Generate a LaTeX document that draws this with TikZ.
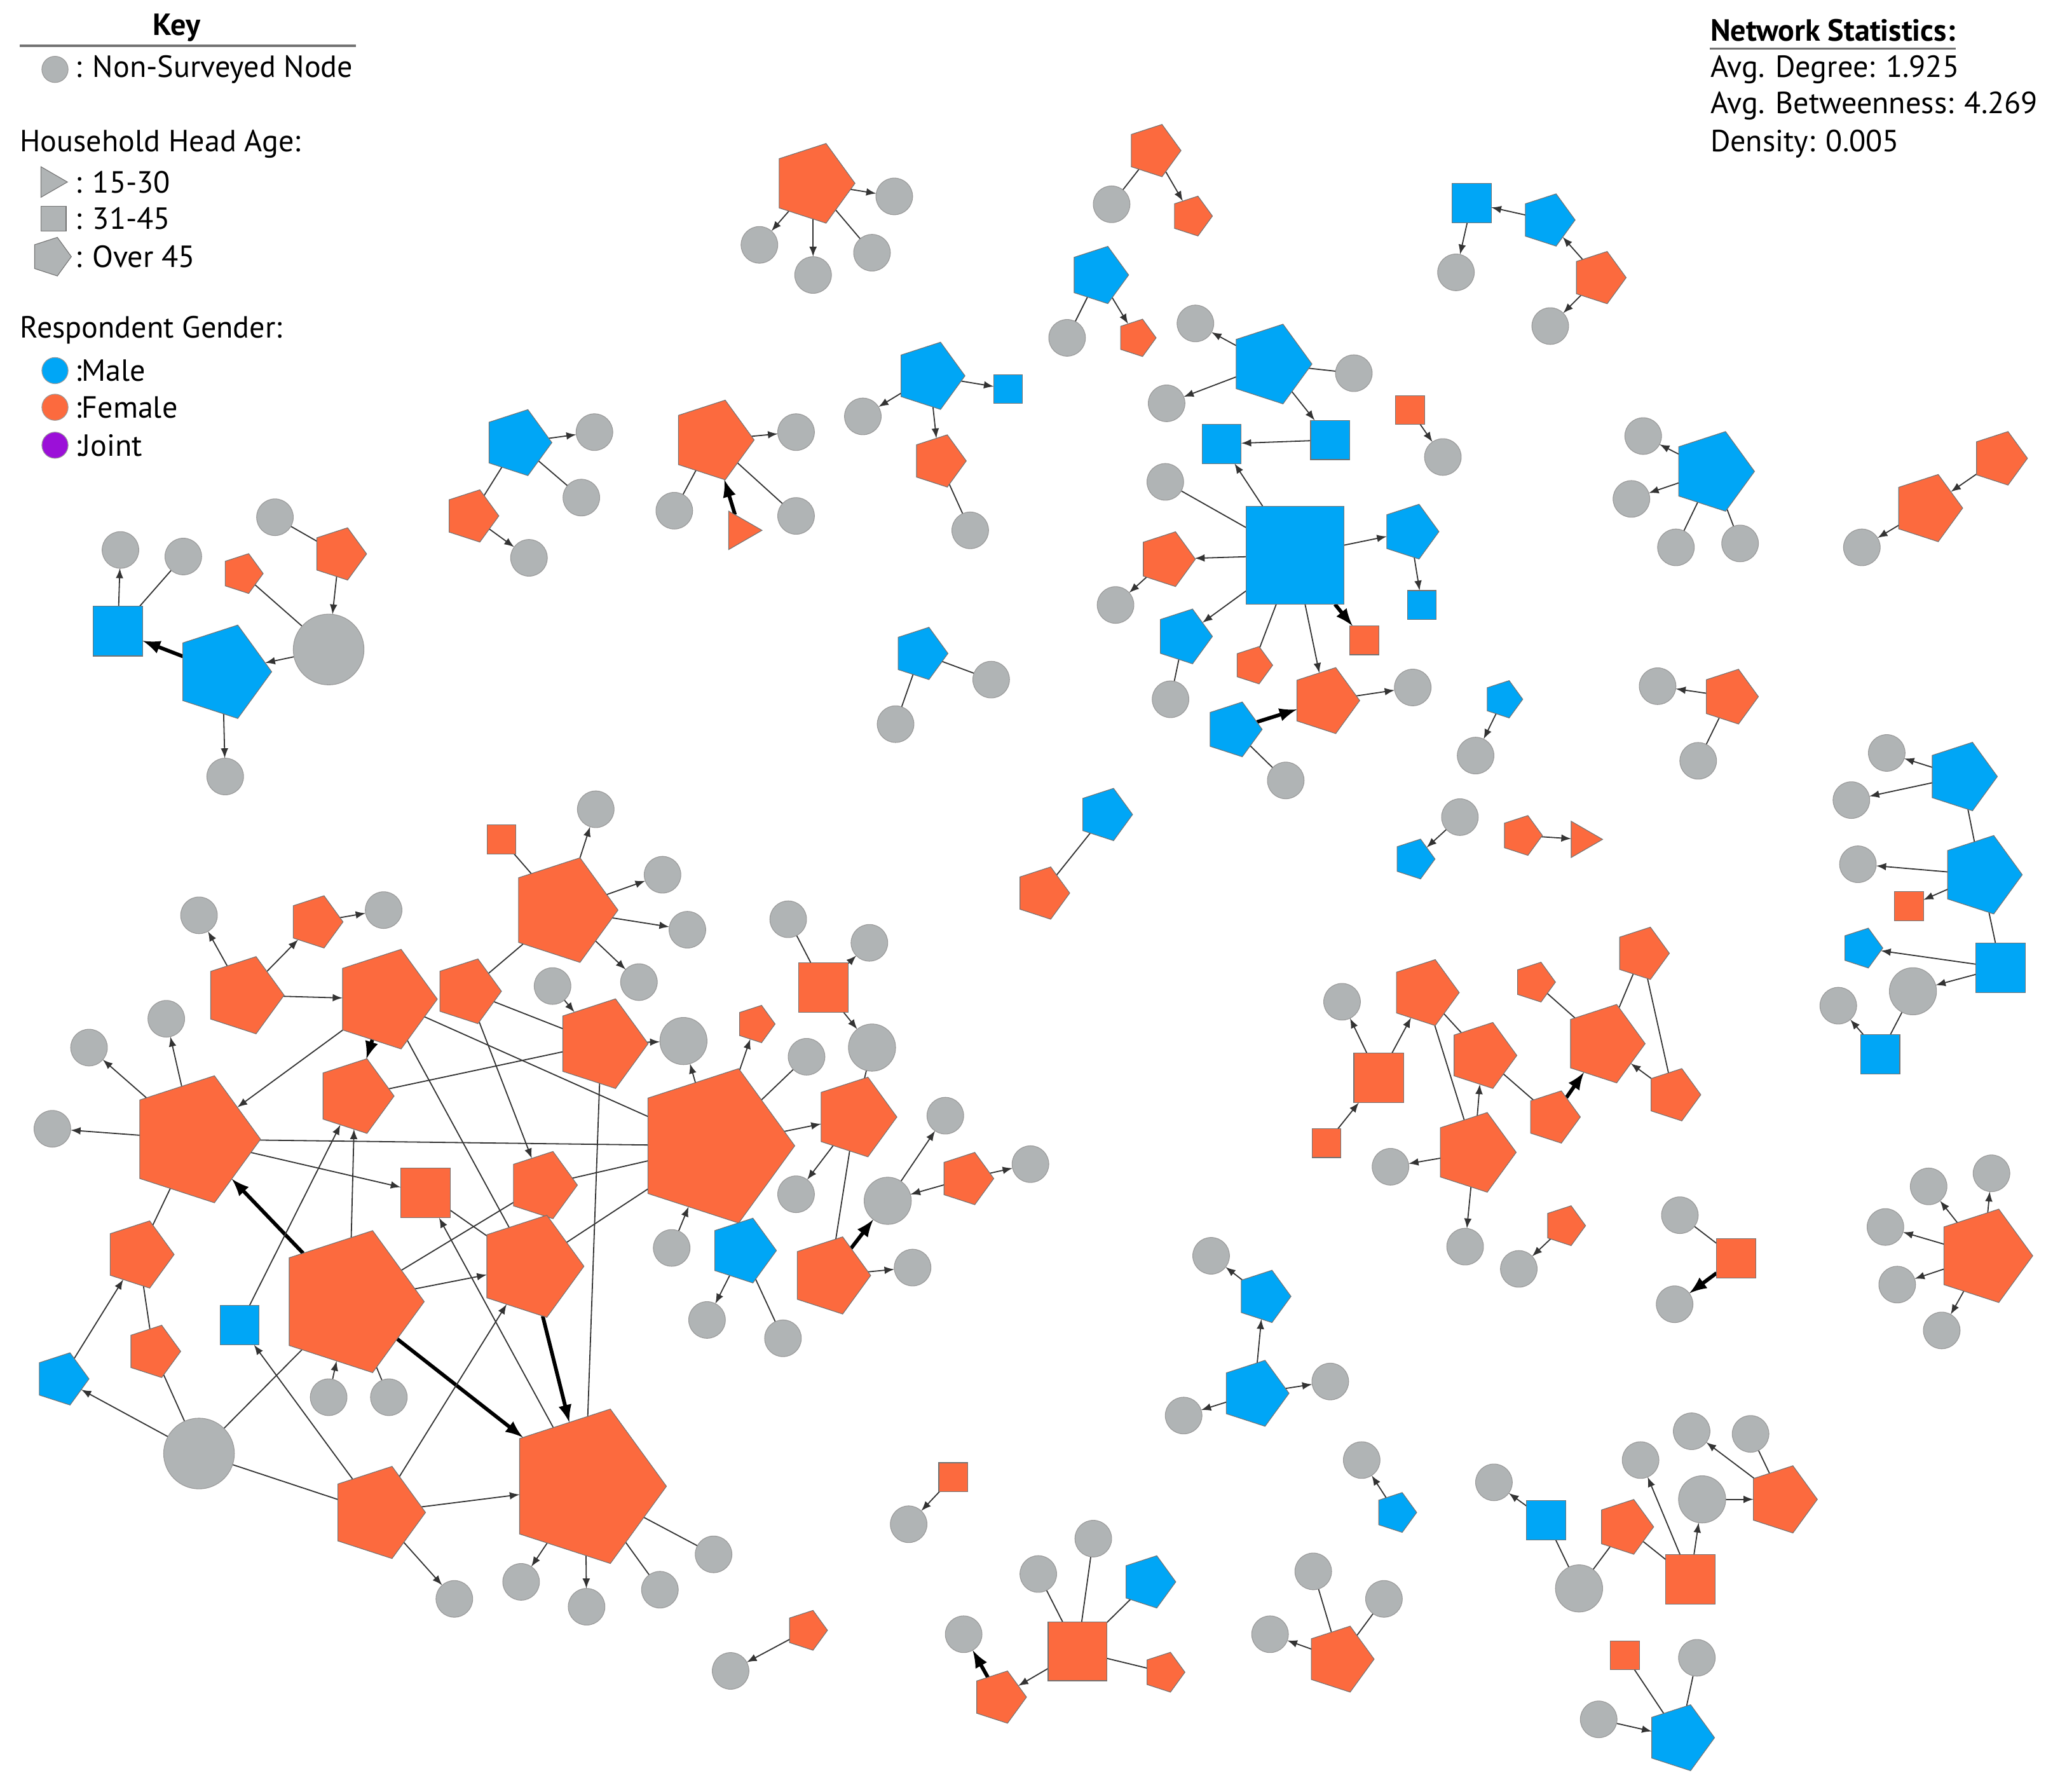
\documentclass[tikz,border=0pt]{standalone}
\usepackage{fontspec}
\setmainfont{PT Sans}
\usetikzlibrary{shapes.geometric}
\definecolor{mblue}{RGB}{0,166,246}
\definecolor{forange}{RGB}{252,106,62}
\definecolor{ngray}{RGB}{176,180,181}
\definecolor{jpurple}{RGB}{155,16,216}
\pgfdeclarelayer{bg}
\pgfsetlayers{bg,main}

\begin{document}
\begin{tikzpicture}[
            x=0.02cm, y=-0.02cm,
            font=\fontsize{13.3}{16}\selectfont,
            nsv/.style={circle, fill=ngray, draw=black!40, line width=0.3pt, inner sep=0pt, outer sep=0pt, minimum size=#1*0.02cm},
            nsv/.default=28,
            pent/.style={regular polygon, regular polygon sides=5, shape border rotate=-90, draw=black!55, line width=0.3pt, inner sep=0pt, outer sep=0pt, minimum size=#1*0.02cm},
            sq/.style={rectangle, draw=black!55, line width=0.3pt, inner sep=0pt, outer sep=0pt, minimum size=#1*0.02cm},
            tri/.style={regular polygon, regular polygon sides=3, shape border rotate=-90, draw=black!55, line width=0.3pt, inner sep=0pt, outer sep=0pt, minimum size=#1*0.02cm},
            link/.style={draw=black!80, line width=0.5pt},
            linkarr/.style={->, >=latex, draw=black!80, line width=0.5pt},
            strong/.style={->, >=latex, draw=black, line width=1.6pt},
            keytext/.style={anchor=west, inner sep=0pt},
            keyhead/.style={anchor=west, inner sep=0pt, font=\fontsize{13.3}{16}\selectfont\bfseries}
        ]
            \begin{pgfonlayer}{bg}
                \fill[white] (0,0) rectangle (1568,1368);
            \end{pgfonlayer}

            % Key
            \node[keyhead, anchor=center] (keytitle) at (135,21) {Key};
            \draw[black!55, line width=1pt] (15,35) -- (272,35);
            \node[nsv=20] (lgnsv) at (42,53) {};
            \node[keytext] (lgnsvtxt) at (57,53) {: Non-Surveyed Node};
            \node[keytext] (agetitle) at (15,110) {Household Head Age:};
            \node[tri=27, fill=ngray] (lgtri) at (38,139) {};
            \node[keytext] (lgtritxt) at (57,139) {: 15-30};
            \node[sq=19, fill=ngray] (lgsq) at (41,167) {};
            \node[keytext] (lgsqtxt) at (57,167) {: 31-45};
            \node[pent=31, fill=ngray] (lgpent) at (39,196) {};
            \node[keytext] (lgpenttxt) at (57,196) {: Over 45};
            \node[keytext] (gendertitle) at (15,252) {Respondent Gender:};
            \node[nsv=20, fill=mblue] (lgmale) at (42,283) {};
            \node[keytext] (lgmaletxt) at (57,283) {:Male};
            \node[nsv=20, fill=forange] (lgfemale) at (42,311) {};
            \node[keytext] (lgfemaletxt) at (57,311) {:Female};
            \node[nsv=20, fill=jpurple] (lgjoint) at (42,340) {};
            \node[keytext] (lgjointtxt) at (57,340) {:Joint};

            % Network statistics
            \node[keyhead] (stathead) at (1306,23) {Network Statistics:};
            \draw[black!55, line width=1pt] ([yshift=-3pt]stathead.south west) -- ([yshift=-3pt]stathead.south east);
            \node[keytext] (statdeg) at (1306,53) {Avg. Degree: 1.925};
            \node[keytext] (statbtw) at (1306,81) {Avg. Betweenness: 4.269};
            \node[keytext] (statden) at (1306,110) {Density: 0.005};

            % Small groups, top
            \node[pent=64, fill=forange] (ua) at (621,140) {};
            \node[nsv] (ua1) at (683,150) {};
            \node[nsv] (ua2) at (580,187) {};
            \node[nsv] (ua3) at (621,210) {};
            \node[nsv] (ua4) at (666,193) {};

            \node[pent=42, fill=forange] (ub) at (881,115) {};
            \node[nsv] (ub1) at (849,156) {};
            \node[pent=32, fill=forange] (ub2) at (910,165) {};

            \node[pent=46, fill=mblue] (uc) at (839,210) {};
            \node[nsv] (uc1) at (815,258) {};
            \node[pent=30, fill=forange] (uc2) at (868,258) {};

            \node[sq=30, fill=mblue] (ud) at (1124,155) {};
            \node[nsv] (ud1) at (1112,208) {};
            \node[pent=42, fill=mblue] (ud2) at (1182,168) {};
            \node[pent=42, fill=forange] (ud3) at (1221,212) {};
            \node[nsv] (ud4) at (1184,249) {};

            \node[pent=54, fill=mblue] (ue) at (710,287) {};
            \node[sq=22, fill=mblue] (ue1) at (770,297) {};
            \node[nsv] (ue2) at (659,318) {};
            \node[pent=42, fill=forange] (ue3) at (717,352) {};
            \node[nsv] (ue4) at (741,405) {};

            \node[pent=53, fill=mblue] (uf) at (395,338) {};
            \node[nsv] (uf1) at (454,330) {};
            \node[nsv] (uf2) at (444,380) {};
            \node[pent=42, fill=forange] (uf3) at (360,394) {};
            \node[nsv] (uf4) at (404,426) {};

            \node[pent=64, fill=forange] (ug) at (544,336) {};
            \node[nsv] (ug1) at (608,330) {};
            \node[nsv] (ug2) at (515,390) {};
            \node[nsv] (ug3) at (608,394) {};
            \node[tri=34, fill=forange] (ug4) at (565,405) {};

            % Left group
            \node[sq=38, fill=mblue] (la) at (90,482) {};
            \node[nsv] (la1) at (92,420) {};
            \node[nsv] (la2) at (140,425) {};
            \node[pent=75, fill=mblue] (lb) at (170,513) {};
            \node[nsv] (lb1) at (172,593) {};
            \node[nsv=54] (lc) at (251,496) {};
            \node[pent=32, fill=forange] (lc1) at (185,438) {};
            \node[pent=42, fill=forange] (lc2) at (259,423) {};
            \node[nsv] (lc3) at (210,395) {};

            % Blue hub group
            \node[sq=75, fill=mblue] (hub) at (989,424) {};
            \node[nsv] (ha) at (913,247) {};
            \node[pent=64, fill=mblue] (hb) at (970,278) {};
            \node[nsv] (hc) at (1034,285) {};
            \node[nsv] (hd) at (891,308) {};
            \node[sq=30, fill=mblue] (he) at (1016,336) {};
            \node[sq=30, fill=mblue] (hf) at (933,339) {};
            \node[nsv] (hg) at (890,368) {};
            \node[pent=44, fill=forange] (hh) at (891,427) {};
            \node[nsv] (hi) at (852,462) {};
            \node[pent=44, fill=mblue] (hj) at (1077,406) {};
            \node[sq=22, fill=mblue] (hk) at (1086,462) {};
            \node[pent=44, fill=mblue] (hl) at (904,486) {};
            \node[nsv] (hm) at (894,534) {};
            \node[pent=30, fill=forange] (hn) at (957,508) {};
            \node[sq=22, fill=forange] (ho) at (1042,489) {};
            \node[pent=53, fill=forange] (hp) at (1012,535) {};
            \node[nsv] (hq) at (1079,525) {};
            \node[pent=44, fill=mblue] (hr) at (942,557) {};
            \node[nsv] (hs) at (982,596) {};

            % Small groups, right
            \node[sq=22, fill=forange] (va) at (1077,313) {};
            \node[nsv] (va1) at (1102,349) {};

            \node[pent=64, fill=mblue] (vb) at (1308,360) {};
            \node[nsv] (vb1) at (1255,333) {};
            \node[nsv] (vb2) at (1246,381) {};
            \node[nsv] (vb3) at (1280,418) {};
            \node[nsv] (vb4) at (1329,415) {};

            \node[pent=43, fill=forange] (vc) at (1527,350) {};
            \node[pent=54, fill=forange] (vd) at (1472,388) {};
            \node[nsv] (vd1) at (1422,418) {};

            \node[pent=42, fill=mblue] (wa) at (703,499) {};
            \node[nsv] (wa1) at (757,519) {};
            \node[nsv] (wa2) at (684,553) {};

            \node[pent=30, fill=mblue] (wb) at (1148,534) {};
            \node[nsv] (wb1) at (1127,577) {};

            \node[pent=44, fill=forange] (wc) at (1321,532) {};
            \node[nsv] (wc1) at (1266,524) {};
            \node[nsv] (wc2) at (1297,581) {};

            \node[pent=42, fill=mblue] (wd) at (844,622) {};
            \node[pent=42, fill=forange] (we) at (796,682) {};

            \node[nsv] (wf) at (1115,624) {};
            \node[pent=32, fill=mblue] (wg) at (1080,656) {};

            \node[pent=32, fill=forange] (wh) at (1162,638) {};
            \node[tri=32, fill=forange] (wi) at (1208,641) {};

            % Right column group
            \node[pent=55, fill=mblue] (ra) at (1498,593) {};
            \node[nsv] (ra1) at (1441,575) {};
            \node[nsv] (ra2) at (1414,611) {};
            \node[pent=63, fill=mblue] (rb) at (1513,668) {};
            \node[nsv] (rb1) at (1419,660) {};
            \node[sq=22, fill=forange] (rb2) at (1458,692) {};
            \node[pent=32, fill=mblue] (rc) at (1422,724) {};
            \node[sq=38, fill=mblue] (rd) at (1528,739) {};
            \node[nsv=36] (re) at (1461,757) {};
            \node[nsv] (rf) at (1404,768) {};
            \node[sq=30, fill=mblue] (rg) at (1436,805) {};

            % Orange group, middle right
            \node[nsv] (ma) at (1025,765) {};
            \node[pent=53, fill=forange] (mb) at (1088,758) {};
            \node[sq=38, fill=forange] (mc) at (1053,823) {};
            \node[sq=22, fill=forange] (md) at (1013,873) {};
            \node[pent=53, fill=forange] (me) at (1132,806) {};
            \node[pent=32, fill=forange] (mf) at (1172,750) {};
            \node[pent=42, fill=forange] (mg) at (1254,728) {};
            \node[pent=63, fill=forange] (mh) at (1225,797) {};
            \node[pent=42, fill=forange] (mi) at (1278,836) {};
            \node[pent=42, fill=forange] (mj) at (1186,853) {};
            \node[pent=64, fill=forange] (mk) at (1126,880) {};
            \node[nsv] (ml) at (1062,891) {};
            \node[nsv] (mm) at (1119,952) {};

            \node[pent=32, fill=forange] (na) at (1195,936) {};
            \node[nsv] (na1) at (1160,969) {};
            \node[nsv] (nb) at (1283,928) {};
            \node[sq=30, fill=forange] (nc) at (1326,961) {};
            \node[nsv] (nc1) at (1279,996) {};
            \node[pent=75, fill=forange] (nd) at (1515,959) {};
            \node[nsv] (nd1) at (1473,906) {};
            \node[nsv] (nd2) at (1521,896) {};
            \node[nsv] (nd3) at (1440,937) {};
            \node[nsv] (nd4) at (1449,981) {};
            \node[nsv] (nd5) at (1483,1016) {};

            % Small groups, bottom
            \node[nsv] (sa) at (925,959) {};
            \node[pent=42, fill=mblue] (sb) at (965,990) {};
            \node[pent=53, fill=mblue] (sc) at (958,1064) {};
            \node[nsv] (sc1) at (1016,1055) {};
            \node[nsv] (sc2) at (904,1081) {};
            \node[nsv] (sd) at (1040,1115) {};
            \node[pent=32, fill=mblue] (se) at (1066,1155) {};
            \node[sq=22, fill=forange] (sf) at (728,1128) {};
            \node[nsv] (sf1) at (694,1164) {};
            \node[sq=45, fill=forange] (sg) at (823,1261) {};
            \node[nsv] (sg1) at (835,1175) {};
            \node[nsv] (sg2) at (793,1202) {};
            \node[pent=42, fill=mblue] (sg3) at (877,1208) {};
            \node[pent=32, fill=forange] (sg4) at (889,1277) {};
            \node[pent=42, fill=forange] (sh) at (763,1296) {};
            \node[nsv] (sh1) at (736,1248) {};
            \node[pent=32, fill=forange] (si) at (616,1245) {};
            \node[nsv] (si1) at (558,1276) {};
            \node[pent=53, fill=forange] (sj) at (1023,1267) {};
            \node[nsv] (sj1) at (1003,1200) {};
            \node[nsv] (sj2) at (1057,1221) {};
            \node[nsv] (sj3) at (970,1248) {};

            \node[nsv] (ta) at (1141,1132) {};
            \node[sq=30, fill=mblue] (tb) at (1181,1161) {};
            \node[nsv=36] (tc) at (1206,1213) {};
            \node[pent=44, fill=forange] (td) at (1241,1166) {};
            \node[nsv] (te) at (1253,1115) {};
            \node[nsv] (tf) at (1292,1093) {};
            \node[nsv] (tg) at (1337,1095) {};
            \node[nsv=36] (th) at (1300,1145) {};
            \node[pent=54, fill=forange] (ti) at (1361,1145) {};
            \node[sq=38, fill=forange] (tj) at (1291,1206) {};
            \node[sq=22, fill=forange] (tk) at (1241,1264) {};
            \node[nsv] (tl) at (1296,1266) {};
            \node[nsv] (tm) at (1221,1313) {};
            \node[pent=53, fill=mblue] (tn) at (1283,1327) {};

            % Large orange group
            \node[sq=22, fill=forange] (ka) at (383,641) {};
            \node[nsv] (ka1) at (455,618) {};
            \node[pent=84, fill=forange] (kA) at (430,695) {};
            \node[nsv] (kA1) at (506,668) {};
            \node[nsv] (kA2) at (525,710) {};
            \node[nsv] (kA3) at (488,750) {};
            \node[pent=62, fill=forange] (kB) at (186,760) {};
            \node[nsv] (kb1) at (152,699) {};
            \node[pent=42, fill=forange] (kb2) at (241,704) {};
            \node[nsv] (kb3) at (293,695) {};
            \node[pent=80, fill=forange] (kC) at (294,763) {};
            \node[pent=52, fill=forange] (kD) at (357,757) {};
            \node[nsv] (kd1) at (422,753) {};
            \node[pent=72, fill=forange] (kE) at (459,797) {};
            \node[pent=60, fill=forange] (kF) at (271,837) {};
            \node[pent=102, fill=forange] (kH) at (148,870) {};
            \node[nsv] (kh1) at (127,778) {};
            \node[nsv] (kh2) at (68,800) {};
            \node[nsv] (kh3) at (40,862) {};
            \node[pent=124, fill=forange] (kI) at (545,875) {};
            \node[pent=30, fill=forange] (kI1) at (577,782) {};
            \node[nsv=36] (kI2) at (522,795) {};
            \node[nsv] (kI3) at (616,807) {};
            \node[nsv] (kI4) at (513,953) {};
            \node[sq=38, fill=forange] (kG) at (629,754) {};
            \node[nsv] (kg1) at (602,702) {};
            \node[nsv] (kg2) at (664,720) {};
            \node[nsv=36] (kg3) at (666,800) {};
            \node[pent=64, fill=forange] (kJ) at (653,853) {};
            \node[nsv] (kj1) at (608,912) {};
            \node[sq=38, fill=forange] (kK) at (325,911) {};
            \node[pent=54, fill=forange] (kL) at (414,905) {};
            \node[pent=82, fill=forange] (kP) at (405,967) {};
            \node[pent=62, fill=forange] (kS) at (634,974) {};
            \node[nsv] (ks1) at (697,968) {};
            \node[nsv=36] (kt) at (678,917) {};
            \node[nsv] (kt1) at (722,852) {};
            \node[pent=42, fill=forange] (kM) at (738,900) {};
            \node[nsv] (km1) at (787,889) {};
            \node[pent=52, fill=mblue] (kN) at (567,955) {};
            \node[nsv] (kn1) at (540,1008) {};
            \node[nsv] (kn2) at (598,1022) {};
            \node[pent=54, fill=forange] (kO) at (106,958) {};
            \node[pent=114, fill=forange] (kQ) at (267,994) {};
            \node[nsv] (kq1) at (251,1067) {};
            \node[nsv] (kq2) at (297,1067) {};
            \node[sq=30, fill=mblue] (kR) at (183,1012) {};
            \node[pent=42, fill=forange] (kT) at (117,1032) {};
            \node[pent=42, fill=mblue] (kU) at (47,1053) {};
            \node[nsv=54] (kV) at (152,1110) {};
            \node[pent=74, fill=forange] (kW) at (288,1155) {};
            \node[nsv] (kw1) at (347,1221) {};
            \node[pent=124, fill=forange] (kX) at (447,1135) {};
            \node[nsv] (kx1) at (545,1187) {};
            \node[nsv] (kx2) at (398,1208) {};
            \node[nsv] (kx3) at (448,1227) {};
            \node[nsv] (kx4) at (504,1214) {};

            % Ties
            \begin{pgfonlayer}{bg}
            \draw[linkarr] (ua) -- (ua1);
            \draw[linkarr] (ua) -- (ua2);
            \draw[linkarr] (ua) -- (ua3);
            \draw[link] (ua) -- (ua4);
            \draw[link] (ub) -- (ub1);
            \draw[linkarr] (ub) -- (ub2);
            \draw[link] (uc) -- (uc1);
            \draw[linkarr] (uc) -- (uc2);
            \draw[linkarr] (ud2) -- (ud);
            \draw[linkarr] (ud) -- (ud1);
            \draw[linkarr] (ud3) -- (ud2);
            \draw[linkarr] (ud3) -- (ud4);
            \draw[linkarr] (ue) -- (ue1);
            \draw[linkarr] (ue) -- (ue2);
            \draw[linkarr] (ue) -- (ue3);
            \draw[link] (ue3) -- (ue4);
            \draw[linkarr] (uf) -- (uf1);
            \draw[link] (uf) -- (uf2);
            \draw[link] (uf) -- (uf3);
            \draw[linkarr] (uf3) -- (uf4);
            \draw[linkarr] (ug) -- (ug1);
            \draw[link] (ug) -- (ug2);
            \draw[link] (ug) -- (ug3);
            \draw[strong] (ug4) -- (ug);

            \draw[linkarr] (la) -- (la1);
            \draw[link] (la) -- (la2);
            \draw[strong] (lb) -- (la);
            \draw[linkarr] (lc) -- (lb);
            \draw[link] (lc) -- (lc1);
            \draw[linkarr] (lc2) -- (lc);
            \draw[link] (lc2) -- (lc3);
            \draw[linkarr] (lb) -- (lb1);

            \draw[linkarr] (hb) -- (ha);
            \draw[linkarr] (hb) -- (hd);
            \draw[link] (hb) -- (hc);
            \draw[linkarr] (hb) -- (he);
            \draw[linkarr] (he) -- (hf);
            \draw[linkarr] (hub) -- (hf);
            \draw[link] (hub) -- (hg);
            \draw[linkarr] (hub) -- (hh);
            \draw[linkarr] (hh) -- (hi);
            \draw[linkarr] (hub) -- (hj);
            \draw[linkarr] (hj) -- (hk);
            \draw[linkarr] (hub) -- (hl);
            \draw[link] (hl) -- (hm);
            \draw[link] (hub) -- (hn);
            \draw[strong] (hub) -- (ho);
            \draw[linkarr] (hub) -- (hp);
            \draw[linkarr] (hp) -- (hq);
            \draw[strong] (hr) -- (hp);
            \draw[link] (hr) -- (hs);

            \draw[linkarr] (va) -- (va1);
            \draw[linkarr] (vb) -- (vb1);
            \draw[linkarr] (vb) -- (vb2);
            \draw[link] (vb) -- (vb3);
            \draw[link] (vb) -- (vb4);
            \draw[linkarr] (vc) -- (vd);
            \draw[linkarr] (vd) -- (vd1);
            \draw[link] (wa) -- (wa1);
            \draw[link] (wa) -- (wa2);
            \draw[linkarr] (wb) -- (wb1);
            \draw[linkarr] (wc) -- (wc1);
            \draw[link] (wc) -- (wc2);
            \draw[link] (wd) -- (we);
            \draw[linkarr] (wf) -- (wg);
            \draw[linkarr] (wh) -- (wi);

            \draw[linkarr] (ra) -- (ra1);
            \draw[linkarr] (ra) -- (ra2);
            \draw[link] (ra) -- (rb);
            \draw[linkarr] (rb) -- (rb1);
            \draw[linkarr] (rb) -- (rb2);
            \draw[link] (rb) -- (rd);
            \draw[linkarr] (rd) -- (rc);
            \draw[linkarr] (rd) -- (re);
            \draw[link] (re) -- (rg);
            \draw[linkarr] (rg) -- (rf);

            \draw[linkarr] (mc) -- (ma);
            \draw[linkarr] (mc) -- (mb);
            \draw[linkarr] (md) -- (mc);
            \draw[link] (mb) -- (me);
            \draw[link] (mb) -- (mk);
            \draw[linkarr] (mk) -- (me);
            \draw[link] (me) -- (mj);
            \draw[strong] (mj) -- (mh);
            \draw[link] (mf) -- (mh);
            \draw[link] (mg) -- (mh);
            \draw[link] (mg) -- (mi);
            \draw[linkarr] (mi) -- (mh);
            \draw[linkarr] (mk) -- (ml);
            \draw[linkarr] (mk) -- (mm);
            \draw[linkarr] (na) -- (na1);
            \draw[link] (nc) -- (nb);
            \draw[strong] (nc) -- (nc1);
            \draw[linkarr] (nd) -- (nd1);
            \draw[linkarr] (nd) -- (nd2);
            \draw[linkarr] (nd) -- (nd3);
            \draw[linkarr] (nd) -- (nd4);
            \draw[linkarr] (nd) -- (nd5);

            \draw[linkarr] (sb) -- (sa);
            \draw[linkarr] (sc) -- (sb);
            \draw[linkarr] (sc) -- (sc1);
            \draw[linkarr] (sc) -- (sc2);
            \draw[linkarr] (se) -- (sd);
            \draw[linkarr] (sf) -- (sf1);
            \draw[link] (sg) -- (sg1);
            \draw[link] (sg) -- (sg2);
            \draw[link] (sg) -- (sg3);
            \draw[link] (sg) -- (sg4);
            \draw[linkarr] (sg) -- (sh);
            \draw[strong] (sh) -- (sh1);
            \draw[linkarr] (si) -- (si1);
            \draw[link] (sj) -- (sj1);
            \draw[link] (sj) -- (sj2);
            \draw[linkarr] (sj) -- (sj3);

            \draw[linkarr] (tb) -- (ta);
            \draw[link] (tb) -- (tc);
            \draw[link] (tc) -- (td);
            \draw[link] (td) -- (tj);
            \draw[linkarr] (tj) -- (te);
            \draw[linkarr] (tj) -- (th);
            \draw[linkarr] (th) -- (ti);
            \draw[linkarr] (ti) -- (tf);
            \draw[link] (ti) -- (tg);
            \draw[link] (tk) -- (tn);
            \draw[link] (tl) -- (tn);
            \draw[linkarr] (tm) -- (tn);

            \draw[link] (ka) -- (kA);
            \draw[linkarr] (kA) -- (ka1);
            \draw[linkarr] (kA) -- (kA1);
            \draw[linkarr] (kA) -- (kA2);
            \draw[linkarr] (kA) -- (kA3);
            \draw[link] (kA) -- (kD);
            \draw[linkarr] (kB) -- (kb1);
            \draw[linkarr] (kB) -- (kb2);
            \draw[linkarr] (kb2) -- (kb3);
            \draw[linkarr] (kB) -- (kC);
            \draw[strong] (kC) -- (kF);
            \draw[linkarr] (kC) -- (kH);
            \draw[link] (kC) -- (kI);
            \draw[link] (kC) -- (kP);
            \draw[link] (kD) -- (kE);
            \draw[linkarr] (kD) -- (kL);
            \draw[linkarr] (kd1) -- (kE);
            \draw[link] (kE) -- (kF);
            \draw[linkarr] (kE) -- (kI2);
            \draw[link] (kE) -- (kX);
            \draw[linkarr] (kH) -- (kh1);
            \draw[linkarr] (kH) -- (kh2);
            \draw[linkarr] (kH) -- (kh3);
            \draw[link] (kH) -- (kI);
            \draw[linkarr] (kH) -- (kK);
            \draw[link] (kH) -- (kO);
            \draw[strong] (kQ) -- (kH);
            \draw[linkarr] (kQ) -- (kF);
            \draw[linkarr] (kR) -- (kF);
            \draw[link] (kL) -- (kI);
            \draw[link] (kP) -- (kI);
            \draw[link] (kQ) -- (kL);
            \draw[linkarr] (kQ) -- (kP);
            \draw[link] (kK) -- (kP);
            \draw[linkarr] (kX) -- (kK);
            \draw[strong] (kP) -- (kX);
            \draw[strong] (kQ) -- (kX);
            \draw[linkarr] (kW) -- (kP);
            \draw[linkarr] (kW) -- (kR);
            \draw[link] (kQ) -- (kV);
            \draw[linkarr] (kq1) -- (kQ);
            \draw[link] (kQ) -- (kq2);
            \draw[link] (kO) -- (kT);
            \draw[linkarr] (kU) -- (kO);
            \draw[linkarr] (kV) -- (kU);
            \draw[link] (kT) -- (kV);
            \draw[link] (kV) -- (kW);
            \draw[linkarr] (kW) -- (kw1);
            \draw[linkarr] (kW) -- (kX);
            \draw[link] (kX) -- (kx1);
            \draw[linkarr] (kX) -- (kx2);
            \draw[linkarr] (kX) -- (kx3);
            \draw[link] (kX) -- (kx4);
            \draw[linkarr] (kI) -- (kI2);
            \draw[linkarr] (kI) -- (kI1);
            \draw[link] (kI) -- (kI3);
            \draw[linkarr] (kI4) -- (kI);
            \draw[linkarr] (kI) -- (kJ);
            \draw[linkarr] (kN) -- (kn1);
            \draw[link] (kN) -- (kn2);
            \draw[link] (kG) -- (kg1);
            \draw[linkarr] (kG) -- (kg2);
            \draw[linkarr] (kG) -- (kg3);
            \draw[link] (kg3) -- (kJ);
            \draw[linkarr] (kJ) -- (kj1);
            \draw[link] (kJ) -- (kS);
            \draw[strong] (kS) -- (kt);
            \draw[linkarr] (kt) -- (kt1);
            \draw[linkarr] (kM) -- (kt);
            \draw[linkarr] (kM) -- (km1);
            \draw[linkarr] (kS) -- (ks1);
            \end{pgfonlayer}
        \end{tikzpicture}
\end{document}
